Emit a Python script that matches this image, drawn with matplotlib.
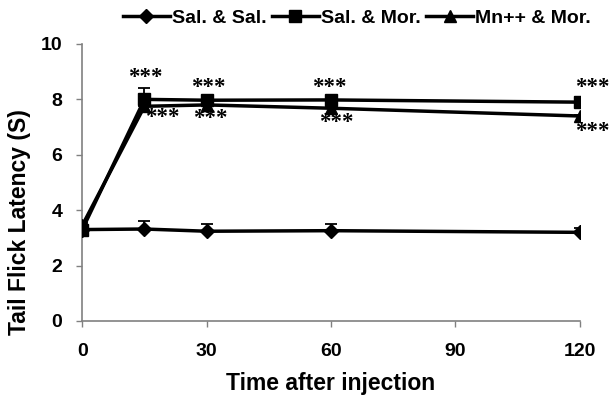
import matplotlib
matplotlib.use("Agg")
import matplotlib.pyplot as plt

times = [0, 15, 30, 60, 120]
sal_sal = [3.3, 3.32, 3.24, 3.26, 3.2]
sal_sal_err = [0.1, 0.3, 0.25, 0.25, 0.15]
sal_mor = [3.3, 8.0, 7.97, 7.98, 7.9]
sal_mor_err = [0.1, 0.42, 0.12, 0.05, 0.18]
mn_mor = [3.45, 7.75, 7.8, 7.68, 7.4]
mn_mor_err = [0.1, 0.05, 0.05, 0.05, 0.05]
labels = ["Sal. & Sal.", "Sal. & Mor.", "Mn++ & Mor."]
xticks = [0, 30, 60, 90, 120]
yticks = [0, 2, 4, 6, 8, 10]
# significance marks (x, y) in data units
stars_above = [(15.3, 8.78), (30.3, 8.42), (59.7, 8.42), (123.0, 8.42)]
stars_below = [(19.4, 7.36), (31.0, 7.3), (61.4, 7.18), (123.0, 6.85)]

plt.rcParams['font.family'] = ['Liberation Sans', 'DejaVu Sans']
fig = plt.figure(figsize=(6.14, 3.98), dpi=100)
ax = fig.add_axes([0.134, 0.1935, 0.810, 0.696])

series = [(sal_sal, sal_sal_err, 'D', 7), (sal_mor, sal_mor_err, 's', 8), (mn_mor, mn_mor_err, '^', 8)]
handles = []
for (vals, err, mk, ms), lab in zip(series, labels):
    ax.errorbar(times, vals, yerr=[[0]*len(err), err], fmt='none', ecolor='black',
                elinewidth=1.3, capsize=4.5, capthick=1.3, zorder=2)
    h, = ax.plot(times, vals, color='black', lw=2.5, marker=mk, ms=ms, zorder=3, label=lab)
    handles.append(h)

for x, y in stars_above + stars_below:
    ax.text(x, y, "***", ha='center', va='center', fontsize=16.5, fontweight='bold',
            family=['Liberation Serif', 'DejaVu Serif'], clip_on=False)

ax.set_xlim(0, 120)
ax.set_ylim(0, 10)
ax.set_xticks(xticks)
ax.set_yticks(yticks)
ax.tick_params(axis='both', labelsize=14, width=1, length=4.5, color='#808080', direction='out')
ax.tick_params(axis='x', pad=11)
ax.tick_params(axis='y', pad=10)
for lbl in ax.get_xticklabels() + ax.get_yticklabels():
    lbl.set_fontweight('bold')
for s in ['top', 'right']:
    ax.spines[s].set_visible(False)
for s in ['left', 'bottom']:
    ax.spines[s].set_color('#808080')
    ax.spines[s].set_linewidth(1.2)

ax.set_xlabel("Time after injection", fontsize=16.5, fontweight='bold', labelpad=9)
ax.set_ylabel("Tail Flick Latency (S)", fontsize=16.5, fontweight='bold')
ax.yaxis.set_label_coords(-0.104, 0.357)

fig.legend(handles=handles, labels=labels, loc='center', bbox_to_anchor=(0.581, 0.955), ncol=3,
           frameon=False, prop={'weight': 'bold', 'size': 14},
           handlelength=2.4, handletextpad=0.1, columnspacing=0.3, borderaxespad=0, borderpad=0)

fig.savefig("out.png", dpi=100)
